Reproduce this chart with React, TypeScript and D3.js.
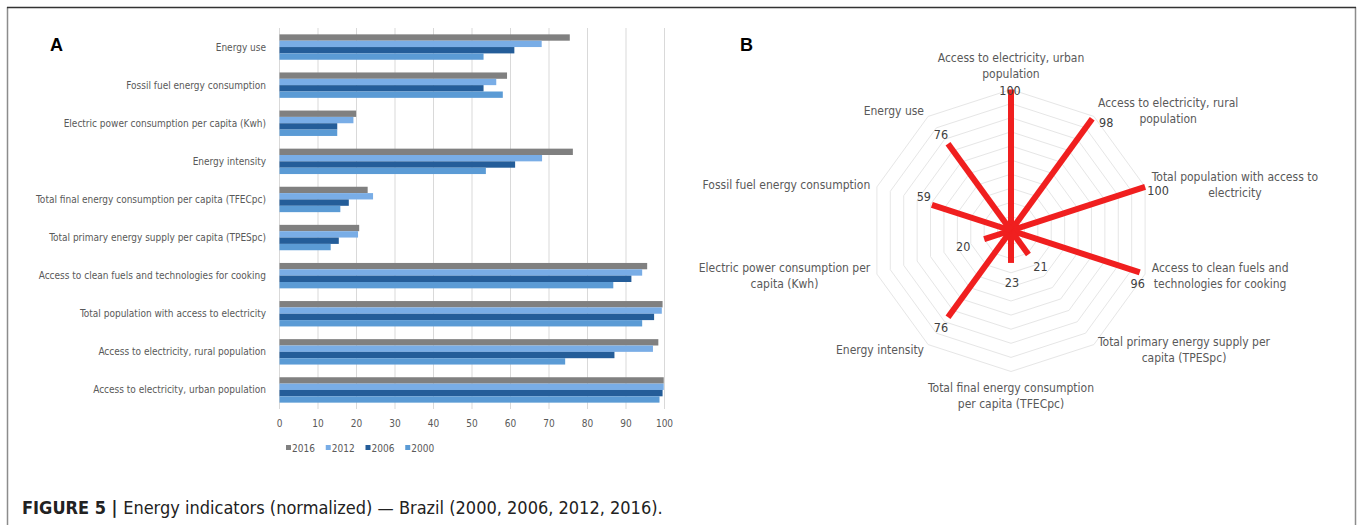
import React from 'react';
import * as d3 from 'd3';

// ---------- Data ----------
const categories = [
  'Energy use',
  'Fossil fuel energy consumption',
  'Electric power consumption per capita (Kwh)',
  'Energy intensity',
  'Total final energy consumption per capita (TFECpc)',
  'Total primary energy supply per capita (TPESpc)',
  'Access to clean fuels and technologies for cooking',
  'Total population with access to electricity',
  'Access to electricity, rural population',
  'Access to electricity, urban population',
];
const years = ['2016', '2012', '2006', '2000'];
const values2016 = [75.4, 59.1, 19.9, 76.2, 22.9, 20.7, 95.5, 99.5, 98.4, 99.8];
const values2012 = [68.1, 56.3, 19.2, 68.2, 24.3, 20.4, 94.2, 99.3, 97.0, 99.8];
const values2006 = [61.0, 53.0, 15.0, 61.2, 18.0, 15.4, 91.4, 97.3, 87.0, 99.5];
const values2000 = [53.0, 58.0, 15.0, 53.6, 15.8, 13.3, 86.7, 94.2, 74.2, 98.7];
const xTicks = [0, 10, 20, 30, 40, 50, 60, 70, 80, 90, 100];

const radarLabels = [
  ['Access to electricity, urban', 'population'],
  ['Access to electricity, rural', 'population'],
  ['Total population with access to', 'electricity'],
  ['Access to clean fuels and', 'technologies for cooking'],
  ['Total primary energy supply per', 'capita (TPESpc)'],
  ['Total final energy consumption', 'per capita (TFECpc)'],
  ['Energy intensity'],
  ['Electric power consumption per', 'capita (Kwh)'],
  ['Fossil fuel energy consumption'],
  ['Energy use'],
];
const radarValues = [100, 98, 100, 96, 21, 23, 76, 20, 59, 76];
const radarLevels = [10, 20, 30, 40, 50, 60, 70, 80, 90, 100];

// ---------- Layout / style constants ----------
const W = 1362;
const H = 525;
const NARROW = "'Liberation Sans Narrow', 'DejaVu Sans Condensed', 'Arial Narrow', sans-serif";
const SANS = "'Liberation Sans', Arial, Helvetica, sans-serif";
const yearColors = ['#808080', '#79ade6', '#245d99', '#5b9bd5'];
const textGrey = '#595959';
// value label offsets (px) relative to the spoke end, as placed in the source
const valueLabelOffsets = [
  [-1, 1], [14, 4], [13, 4], [-2, 11], [12, 12], [1, 20], [-7, 10], [-21, 7], [-8, -8], [-7, -9],
];

let measureCtx: CanvasRenderingContext2D | null = null;
function textWidth(s: string, font: string) {
  if (!measureCtx) {
    const c = document.createElement('canvas');
    measureCtx = c.getContext('2d');
  }
  if (!measureCtx) return s.length * 5.5;
  measureCtx.font = font;
  return measureCtx.measureText(s).width;
}

function BarPanel() {
  const series = [values2016, values2012, values2006, values2000];
  const x = d3.scaleLinear().domain([0, 100]).range([279.5, 664.5]);
  const y = d3
    .scaleBand<string>()
    .domain(categories)
    .range([28, 409])
    .paddingInner(1 / 3)
    .paddingOuter(1 / 6);
  const inner = d3.scaleBand<string>().domain(years).range([0, y.bandwidth()]);
  const legendX = d3.scaleBand<string>().domain(years).range([286, 445]);

  return (
    <g>
      {xTicks.map((t) => (
        <line key={'g' + t} x1={x(t)} x2={x(t)} y1={28} y2={409} stroke="#d9d9d9" strokeWidth={1} />
      ))}
      {categories.map((c, ci) => (
        <g key={c}>
          {years.map((yr, si) => (
            <rect
              key={yr}
              x={x(0)}
              y={(y(c) as number) + (inner(yr) as number)}
              width={x(series[si][ci]) - x(0)}
              height={inner.bandwidth()}
              fill={yearColors[si]}
            />
          ))}
          <text
            x={266}
            y={(y(c) as number) + y.bandwidth() / 2}
            textAnchor="end"
            dominantBaseline="central"
            fontFamily={NARROW}
            fontSize={10}
            fill={textGrey}
          >
            {c}
          </text>
        </g>
      ))}
      {xTicks.map((t) => (
        <text
          key={'t' + t}
          x={x(t)}
          y={423}
          textAnchor="middle"
          dominantBaseline="central"
          fontFamily={NARROW}
          fontSize={10}
          fill={textGrey}
        >
          {t}
        </text>
      ))}
      {years.map((yr, si) => (
        <g key={'l' + yr}>
          <rect x={legendX(yr) as number} y={445} width={5} height={5} fill={yearColors[si]} />
          <text
            x={(legendX(yr) as number) + 6}
            y={448}
            dominantBaseline="central"
            fontFamily={NARROW}
            fontSize={10}
            fill={textGrey}
          >
            {yr}
          </text>
        </g>
      ))}
    </g>
  );
}

function RadarPanel() {
  const cx = 1011;
  const cy = 230.5;
  const R = 141;
  const n = radarLabels.length;
  const angle = d3.scaleLinear().domain([0, n]).range([0, 2 * Math.PI]);
  const r = d3.scaleLinear().domain([0, 100]).range([0, R]);
  const pt = (i: number, v: number): [number, number] => {
    const a = angle(i);
    return [cx + r(v) * Math.sin(a), cy - r(v) * Math.cos(a)];
  };
  const lineGen = d3.line().curve(d3.curveLinearClosed);
  const fontSize = 12;
  const lh = 16;
  const font = `${fontSize}px ${NARROW}`;

  return (
    <g>
      {radarLevels.map((lv) => (
        <path
          key={'lv' + lv}
          d={lineGen(d3.range(n).map((i) => pt(i, lv))) as string}
          fill="none"
          stroke="#e6e6e6"
          strokeWidth={1}
        />
      ))}
      {radarValues.map((v, i) => {
        const [ex, ey] = pt(i, v);
        return (
          <line
            key={'s' + i}
            x1={cx}
            y1={cy}
            x2={ex}
            y2={ey}
            stroke="#f01f1f"
            strokeWidth={6}
          />
        );
      })}
      {radarValues.map((v, i) => {
        const [ex, ey] = pt(i, v);
        const [dx, dy] = valueLabelOffsets[i];
        return (
          <text
            key={'v' + i}
            x={ex + dx}
            y={ey + dy}
            textAnchor="middle"
            dominantBaseline="central"
            fontFamily={NARROW}
            fontSize={12.5}
            fill="#404040"
          >
            {v}
          </text>
        );
      })}
      {radarLabels.map((lines, i) => {
        const a = angle(i);
        const s = Math.sin(a);
        const c = Math.cos(a);
        const boxW = Math.max(...lines.map((l) => textWidth(l, font)));
        const boxH = lines.length * lh;
        let centerX: number;
        let centerY: number;
        if (Math.abs(s) < 0.01) {
          centerX = cx;
          centerY = cy - (R + 8 + boxH / 2) * Math.sign(c);
        } else {
          const edge = cx + 148 * s;
          centerX = s > 0 ? edge + boxW / 2 : edge - boxW / 2;
          centerY = cy - (R + 7) * c;
        }
        return (
          <text
            key={'c' + i}
            textAnchor="middle"
            fontFamily={NARROW}
            fontSize={fontSize}
            fill={textGrey}
          >
            {lines.map((l, li) => (
              <tspan
                key={li}
                x={centerX}
                y={centerY - boxH / 2 + lh * li + lh / 2}
                dominantBaseline="central"
              >
                {l}
              </tspan>
            ))}
          </text>
        );
      })}
    </g>
  );
}

export default function App() {
  return (
    <svg
      width={W}
      height={H}
      viewBox={`0 0 ${W} ${H}`}
      style={{ position: 'absolute', left: 0, top: 0, background: '#fff' }}
    >
      <rect x={0} y={0} width={W} height={H} fill="#fff" />
      <line x1={7.5} x2={7.5} y1={7} y2={H} stroke="#8c8c8c" strokeWidth={1.5} />
      <line x1={1355.5} x2={1355.5} y1={7} y2={H} stroke="#8c8c8c" strokeWidth={1.5} />
      <line x1={7} x2={1356} y1={7.5} y2={7.5} stroke="#333" strokeWidth={1.5} />
      <text x={50} y={51} fontFamily={SANS} fontWeight="bold" fontSize={18} fill="#000">
        A
      </text>
      <text x={740} y={51} fontFamily={SANS} fontWeight="bold" fontSize={18} fill="#000">
        B
      </text>
      <BarPanel />
      <RadarPanel />
      <text x={22} y={514} fontFamily={NARROW} fontSize={18} fill="#222">
        <tspan fontWeight="bold">FIGURE 5 | </tspan>
        <tspan>Energy indicators (normalized) — Brazil (2000, 2006, 2012, 2016).</tspan>
      </text>
    </svg>
  );
}
